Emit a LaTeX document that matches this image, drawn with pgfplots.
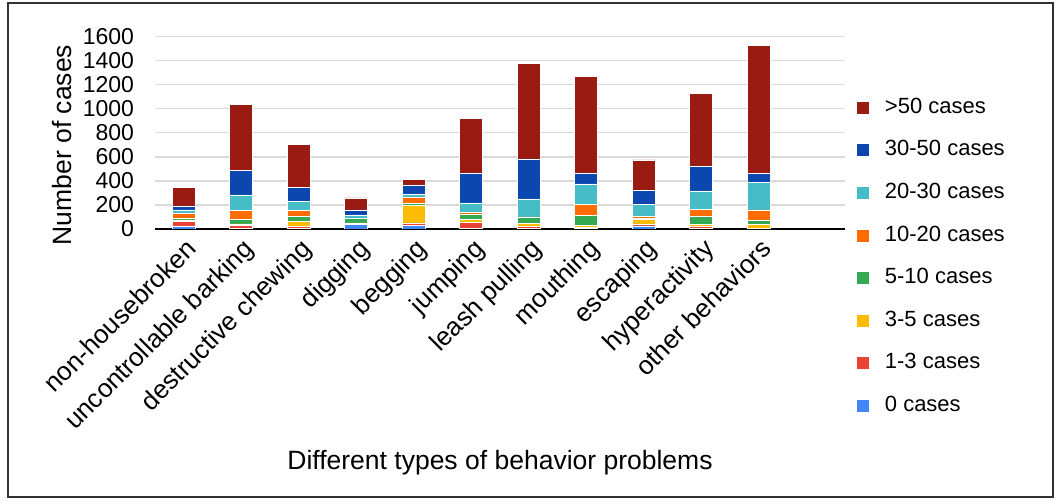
\documentclass[border=0pt]{standalone}
\usepackage{fontspec}
\setmainfont{Liberation Sans}
\usepackage{pgfplots}
\usepackage{pgfplotstable}
\pgfplotsset{compat=1.18}
\definecolor{cA}{HTML}{4285F4}
\definecolor{cB}{HTML}{EA4335}
\definecolor{cC}{HTML}{FBBC04}
\definecolor{cD}{HTML}{34A853}
\definecolor{cE}{HTML}{FF6D01}
\definecolor{cF}{HTML}{46BDC6}
\definecolor{cG}{HTML}{0B47AE}
\definecolor{cH}{HTML}{9A1B12}
\definecolor{gridc}{HTML}{D9D9D9}
\pgfplotstableread{
idx c0 c1 c3 c5 c10 c20 c30 c50
0 22 39 14 11 42 31 33 156
1 8 20 15 35 75 130 205 550
2 8 12 40 45 50 75 117 353
3 39 8 4 35 5 26 41 101
4 28 22 147 17 47 28 78 47
5 3 50 30 42 14 78 249 450
6 3 20 21 50 6 150 333 792
7 2 8 20 80 93 172 91 800
8 25 14 39 14 11 103 116 253
9 3 17 19 67 58 153 208 600
10 2 4 30 36 86 228 78 1061
}\data
\begin{document}
\begin{tikzpicture}
\useasboundingbox (0,0) rectangle (530pt,250.5pt);
\draw[line width=0.8pt, black!80] (4pt,2pt) rectangle (526.5pt,249pt);
\begin{axis}[
  at={(77.5pt,136pt)}, anchor=south west,
  scale only axis, width=345pt, height=96.25pt,
  ybar stacked, bar width=11.5pt,
  xmin=-0.5, xmax=11.5, ymin=0, ymax=1600,
  ytick={0,200,...,1600},
  xtick={0,...,10},
  xticklabels={non-housebroken, uncontrollable barking, destructive chewing, digging, begging, jumping, leash pulling, mouthing, escaping, hyperactivity, other behaviors},
  separate axis lines,
  axis x line*=bottom, x axis line style={black, line width=1.2pt, -},
  axis y line*=left, y axis line style={draw=none},
  major tick length=0pt,
  ymajorgrids, grid style={gridc, line width=0.75pt},
  /pgf/number format/assume math mode=true,
  /pgf/number format/1000 sep={},
  yticklabel style={font=\fontsize{11.5}{13}\selectfont, xshift=-7pt},
  xticklabel style={font=\fontsize{13}{15}\selectfont, rotate=45, anchor=north east, inner sep=1pt, xshift=-1.5pt, yshift=-2pt},
  ylabel={Number of cases},
  ylabel style={font=\fontsize{13.25}{15}\selectfont, at={(axis description cs:-0.1348,0.436)}, anchor=center, rotate=0},
  xlabel={Different types of behavior problems},
  xlabel style={font=\fontsize{13.25}{15}\selectfont, at={(axis description cs:0.5,-1.215)}, anchor=center},
  reverse legend,
  legend image code/.code={\path[#1, draw=none] (0pt,-3pt) rectangle (6pt,3pt);},
  legend style={at={(axis description cs:1.008,-0.145)}, anchor=west, draw=none, fill=none,
    font=\fontsize{11}{13}\selectfont, row sep=10.8pt,
    nodes={inner sep=0pt, text height=8pt, text depth=2.5pt},
    /tikz/every odd column/.append style={column sep=8pt}},
  legend cell align=left,
  every axis plot/.append style={draw=white, line width=0.3pt},
]
\addplot[fill=cA] table[x=idx,y=c0]{\data};
\addplot[fill=cB] table[x=idx,y=c1]{\data};
\addplot[fill=cC] table[x=idx,y=c3]{\data};
\addplot[fill=cD] table[x=idx,y=c5]{\data};
\addplot[fill=cE] table[x=idx,y=c10]{\data};
\addplot[fill=cF] table[x=idx,y=c20]{\data};
\addplot[fill=cG] table[x=idx,y=c30]{\data};
\addplot[fill=cH] table[x=idx,y=c50]{\data};
\legend{0 cases, 1-3 cases, 3-5 cases, 5-10 cases, 10-20 cases, 20-30 cases, 30-50 cases, >50 cases}
\end{axis}
\end{tikzpicture}
\end{document}
